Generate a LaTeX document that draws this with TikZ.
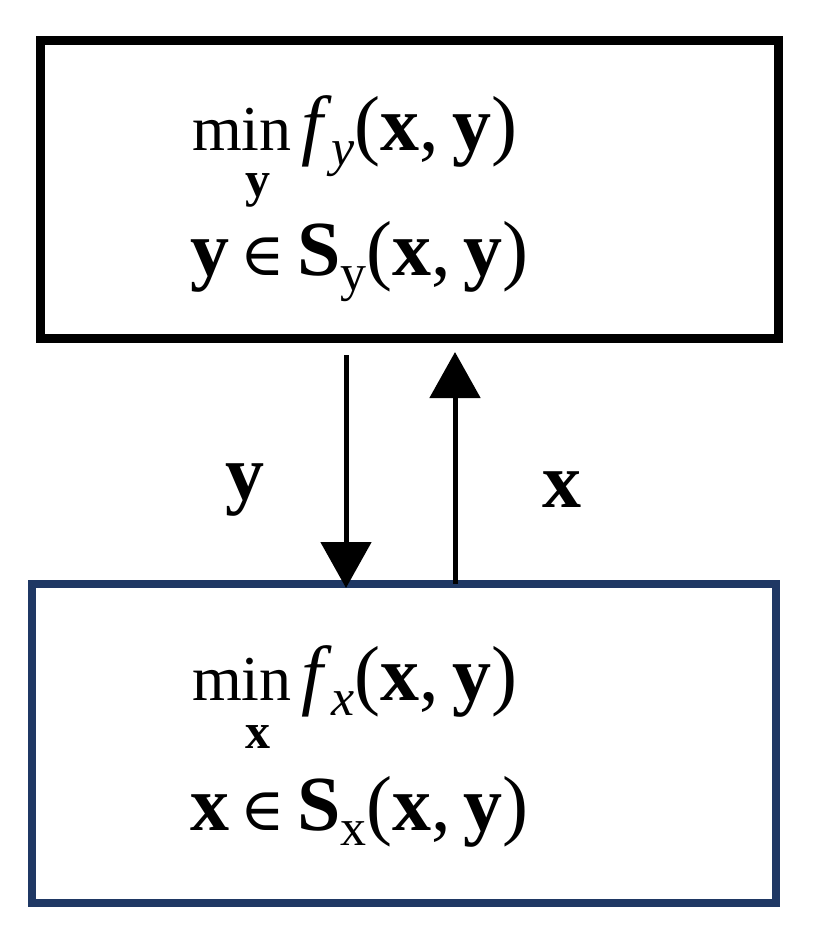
\documentclass[tikz,border=0pt]{standalone}
\usepackage{fontspec}
\setmainfont{Liberation Serif}
\newfontfamily\symf{DejaVu Serif}
\usetikzlibrary{arrows.meta}
\definecolor{navy}{HTML}{1F3864}
\newcommand{\bx}{\textbf{x}}
\newcommand{\by}{\textbf{y}}
\newcommand{\sub}[1]{\raisebox{-0.2em}{\fontsize{52}{52}\selectfont #1}}
\newcommand{\inn}{\hspace{0.15em}{\symf\fontsize{60}{60}\selectfont ∈}\hspace{0.15em}}
\newcommand{\mn}{{\fontsize{64}{64}\selectfont min}\hspace{0.12em}}
\begin{document}
\begin{tikzpicture}[x=1pt,y=-1pt,
  box/.style={line width=9pt},
  conn/.style={line width=5pt,-{Triangle[length=46pt,width=50pt]}},
  txt/.style={font=\fontsize{78}{80}\selectfont,anchor=base west,inner sep=0pt},
  subt/.style={font=\fontsize{50}{50}\selectfont,anchor=base,inner sep=0pt}]
\useasboundingbox (0,0) rectangle (826,935);
\draw[box] (40,40) rectangle (778,338);
\draw[box,navy,line width=8pt] (32,584) rectangle (776,903);
\coordinate (d1) at (346,355); \coordinate (d2) at (346,588);
\coordinate (u1) at (455,584); \coordinate (u2) at (455,352);
\draw[conn] (d1) -- (d2);
\draw[conn] (u1) -- (u2);
\node[txt] (t1) at (192,150) {\mn\textit{f}\sub{\textit{y}}(\bx,\,\by)};
\node[subt] (t1s) at (258,196) {\by};
\node[txt] (t2) at (190,275) {\by\inn\textbf{S}\sub{y}(\bx,\,\by)};
\node[txt] (b1) at (192,700) {\mn\textit{f}\sub{\textit{x}}(\bx,\,\by)};
\node[subt] (b1s) at (258,748) {\bx};
\node[txt] (b2) at (190,830) {\bx\inn\textbf{S}\sub{x}(\bx,\,\by)};
\node[txt,anchor=center] (ly) at (245,490) {\by};
\node[txt,anchor=center] (lx) at (562,490) {\bx};
\end{tikzpicture}
\end{document}
